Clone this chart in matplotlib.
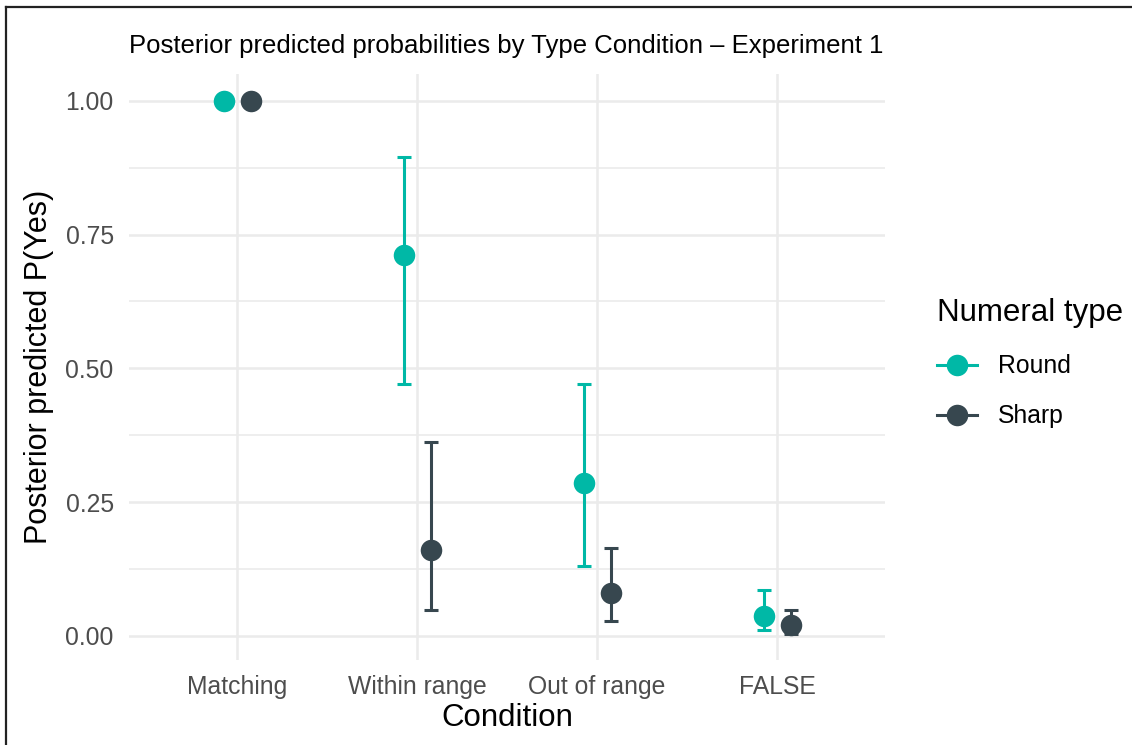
import matplotlib.pyplot as plt
import numpy as np
from matplotlib.lines import Line2D

plt.rcParams['font.family'] = ['Liberation Sans', 'DejaVu Sans']

conditions = ['Matching', 'Within range', 'Out of range', 'FALSE']
types = ['Round', 'Sharp']

# posterior means and 95% intervals
round_mean = [1.000, 0.712, 0.285, 0.037]
round_lo = [1.000, 0.470, 0.131, 0.011]
round_hi = [1.000, 0.895, 0.471, 0.085]

sharp_mean = [1.000, 0.161, 0.080, 0.020]
sharp_lo = [1.000, 0.048, 0.028, 0.004]
sharp_hi = [1.000, 0.363, 0.164, 0.049]

y_ticks = [0.00, 0.25, 0.50, 0.75, 1.00]
y_minor = [0.125, 0.375, 0.625, 0.875]

col_round = '#00b8a6'
col_sharp = '#37474f'
grid_col = '#ebebeb'
tick_col = '#4d4d4d'

W, H = 1132, 745
fig = plt.figure(figsize=(W / 100, H / 100), dpi=100)
ax = fig.add_axes([129 / W, 1 - 660 / H, (885 - 129) / W, (660 - 74) / H])

x = np.arange(len(conditions))
dodge = 0.075

series = [
    (round_mean, round_lo, round_hi, col_round, -dodge),
    (sharp_mean, sharp_lo, sharp_hi, col_sharp, dodge),
]
for mean, lo, hi, col, off in series:
    mean = np.array(mean)
    err = np.vstack([mean - np.array(lo), np.array(hi) - mean])
    ax.errorbar(x + off, mean, yerr=err, fmt='none', ecolor=col,
        elinewidth=2.2, capsize=4.8, capthick=2.2, zorder=3)
    ax.plot(x + off, mean, 'o', ms=15.5, color=col, mec='none', zorder=4)

ax.set_xlim(-0.6, len(conditions) - 1 + 0.6)
ax.set_ylim(-0.045, 1.05)
ax.set_xticks(x)
ax.set_xticklabels(conditions)
ax.set_yticks(y_ticks)
ax.set_yticklabels(['{:.2f}'.format(v) for v in y_ticks])
ax.set_yticks(y_minor, minor=True)

ax.grid(which='major', color=grid_col, lw=1.8, zorder=0)
ax.grid(which='minor', axis='y', color=grid_col, lw=1.2, zorder=0)
ax.set_axisbelow(True)
for sp in ax.spines.values():
    sp.set_visible(False)
ax.tick_params(which='both', length=0, labelsize=17.8, labelcolor=tick_col)
ax.tick_params(axis='x', pad=11)
ax.tick_params(axis='y', pad=11)

ax.set_xlabel('Condition', fontsize=22.5, color='black', labelpad=3)
ax.set_ylabel('Posterior predicted P(Yes)', fontsize=22, color='black',
    labelpad=8)

fig.text(129 / W, 1 - 46 / H,
    'Posterior predicted probabilities by Type Condition \u2013 Experiment 1',
    fontsize=18.5, ha='left', va='center', color='black')

handles = [
    Line2D([], [], color=col_round, lw=2.2, marker='o', ms=15.5,
        mec='none'),
    Line2D([], [], color=col_sharp, lw=2.2, marker='o', ms=15.5,
        mec='none'),
]
leg = fig.legend(handles, types, title='Numeral type', loc='upper left',
    bbox_to_anchor=(915 / W, 1 - 276 / H), frameon=False, fontsize=17.8,
    title_fontsize=22.5, handlelength=1.6, handletextpad=0.85,
    labelspacing=1.05, alignment='left')

# outer frame (only top and left edges are visible in the original)
fig.add_artist(Line2D([6 / W, 6 / W], [0, 1 - 7 / H], color='#222222',
    lw=1.6, transform=fig.transFigure))
fig.add_artist(Line2D([6 / W, 1], [1 - 7 / H, 1 - 7 / H], color='#222222',
    lw=1.6, transform=fig.transFigure))

fig.savefig('out.png', dpi=100, facecolor='w')
